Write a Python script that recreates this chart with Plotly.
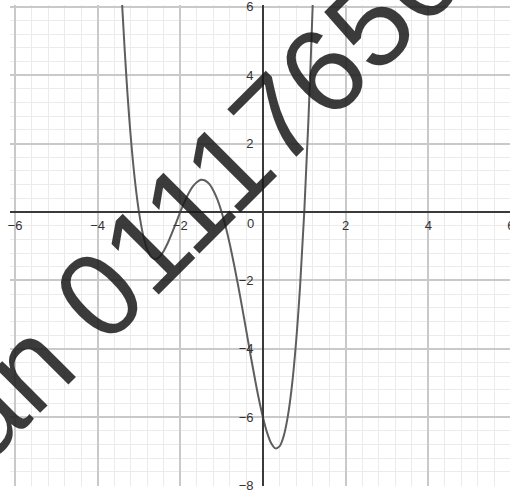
import plotly.graph_objects as go

# Curve points
x_vals = [-3.45, -3.4, -3.3, -3.2, -3.1, -3.0, -2.9, -2.8, -2.7, -2.6, -2.5, -2.4, -2.3, -2.2, -2.1,
          -2.0, -1.9, -1.8, -1.7, -1.6, -1.5, -1.4, -1.3, -1.2, -1.1, -1.0, -0.9, -0.8, -0.7,
          -0.6, -0.5, -0.4, -0.3, -0.2, -0.1, 0.0, 0.1, 0.2, 0.3, 0.4, 0.5, 0.6, 0.7, 0.8,
          0.9, 1.0, 1.1, 1.2, 1.25]
y_vals = [7.11, 5.91, 3.86, 2.22, 0.95, 0.0, -0.67, -1.09, -1.32, -1.38, -1.31, -1.14, -0.90, -0.61, -0.31,
          0.0, 0.29, 0.54, 0.74, 0.87, 0.94, 0.92, 0.82, 0.63, 0.36, 0.0, -0.44, -0.95, -1.53,
          -2.15, -2.81, -3.49, -4.18, -4.84, -5.46, -6.0, -6.45, -6.76, -6.91, -6.85, -6.56, -5.99, -5.10, -3.83,
          -2.15, 0.0, 2.67, 5.91, 7.77]

x_ticks = [-6, -4, -2, 2, 4, 6]
y_ticks = [-8, -6, -4, -2, 2, 4, 6]
watermark = "an 01117650"

x_range = [-6.12, 6.22]
y_range = [-8.01, 6.05]

fig = go.Figure()
fig.add_trace(go.Scatter(x=x_vals, y=y_vals, mode="lines", line_shape="spline",
                         line=dict(color="#5e5e5e", width=2), hoverinfo="skip", showlegend=False))

xpos = (0 - y_range[0]) / (y_range[1] - y_range[0])
ypos = (0 - x_range[0]) / (x_range[1] - x_range[0])

grid_major = "#c9c9c9"
grid_minor = "#ebebeb"
tickfont = dict(family="Liberation Sans, Arial, sans-serif", size=13, color="#333333")

fig.update_layout(
    width=520, height=492,
    margin=dict(l=10, r=0, t=5, b=6, autoexpand=False),
    paper_bgcolor="white", plot_bgcolor="white",
    showlegend=False,
    xaxis=dict(range=x_range, tickvals=x_ticks, showgrid=True, gridcolor=grid_major, gridwidth=1.5,
               minor=dict(tick0=0, dtick=0.4, showgrid=True, gridcolor=grid_minor, gridwidth=1),
               zeroline=False, showline=True, linecolor="#3a3a3a", linewidth=1.6,
               anchor="free", position=xpos, ticks="", tickfont=tickfont, fixedrange=True,
               automargin=False, ticklabelstandoff=2, ticklabeloverflow="allow"),
    yaxis=dict(range=y_range, tickvals=y_ticks, showgrid=True, gridcolor=grid_major, gridwidth=1.5,
               minor=dict(tick0=0, dtick=0.4, showgrid=True, gridcolor=grid_minor, gridwidth=1),
               zeroline=False, showline=True, linecolor="#3a3a3a", linewidth=1.6,
               anchor="free", position=ypos, ticks="", tickfont=tickfont, fixedrange=True,
               automargin=False, ticklabelstandoff=6, ticklabeloverflow="allow"),
)

fig.add_annotation(x=-0.31, y=-0.35, xref="x", yref="y", text="0", showarrow=False, font=tickfont)

fig.add_annotation(x=(198.5 - 10) / 510, y=(486 - 194.5) / 481, xref="paper", yref="paper",
                   text=watermark, showarrow=False, textangle=-45,
                   font=dict(family="Liberation Sans, Arial, sans-serif", size=120,
                             color="rgba(25,25,25,0.85)"))

fig.write_html("out.html", config={"displayModeBar": False},
               post_script="document.body.style.margin='0';document.body.style.overflow='hidden';")
